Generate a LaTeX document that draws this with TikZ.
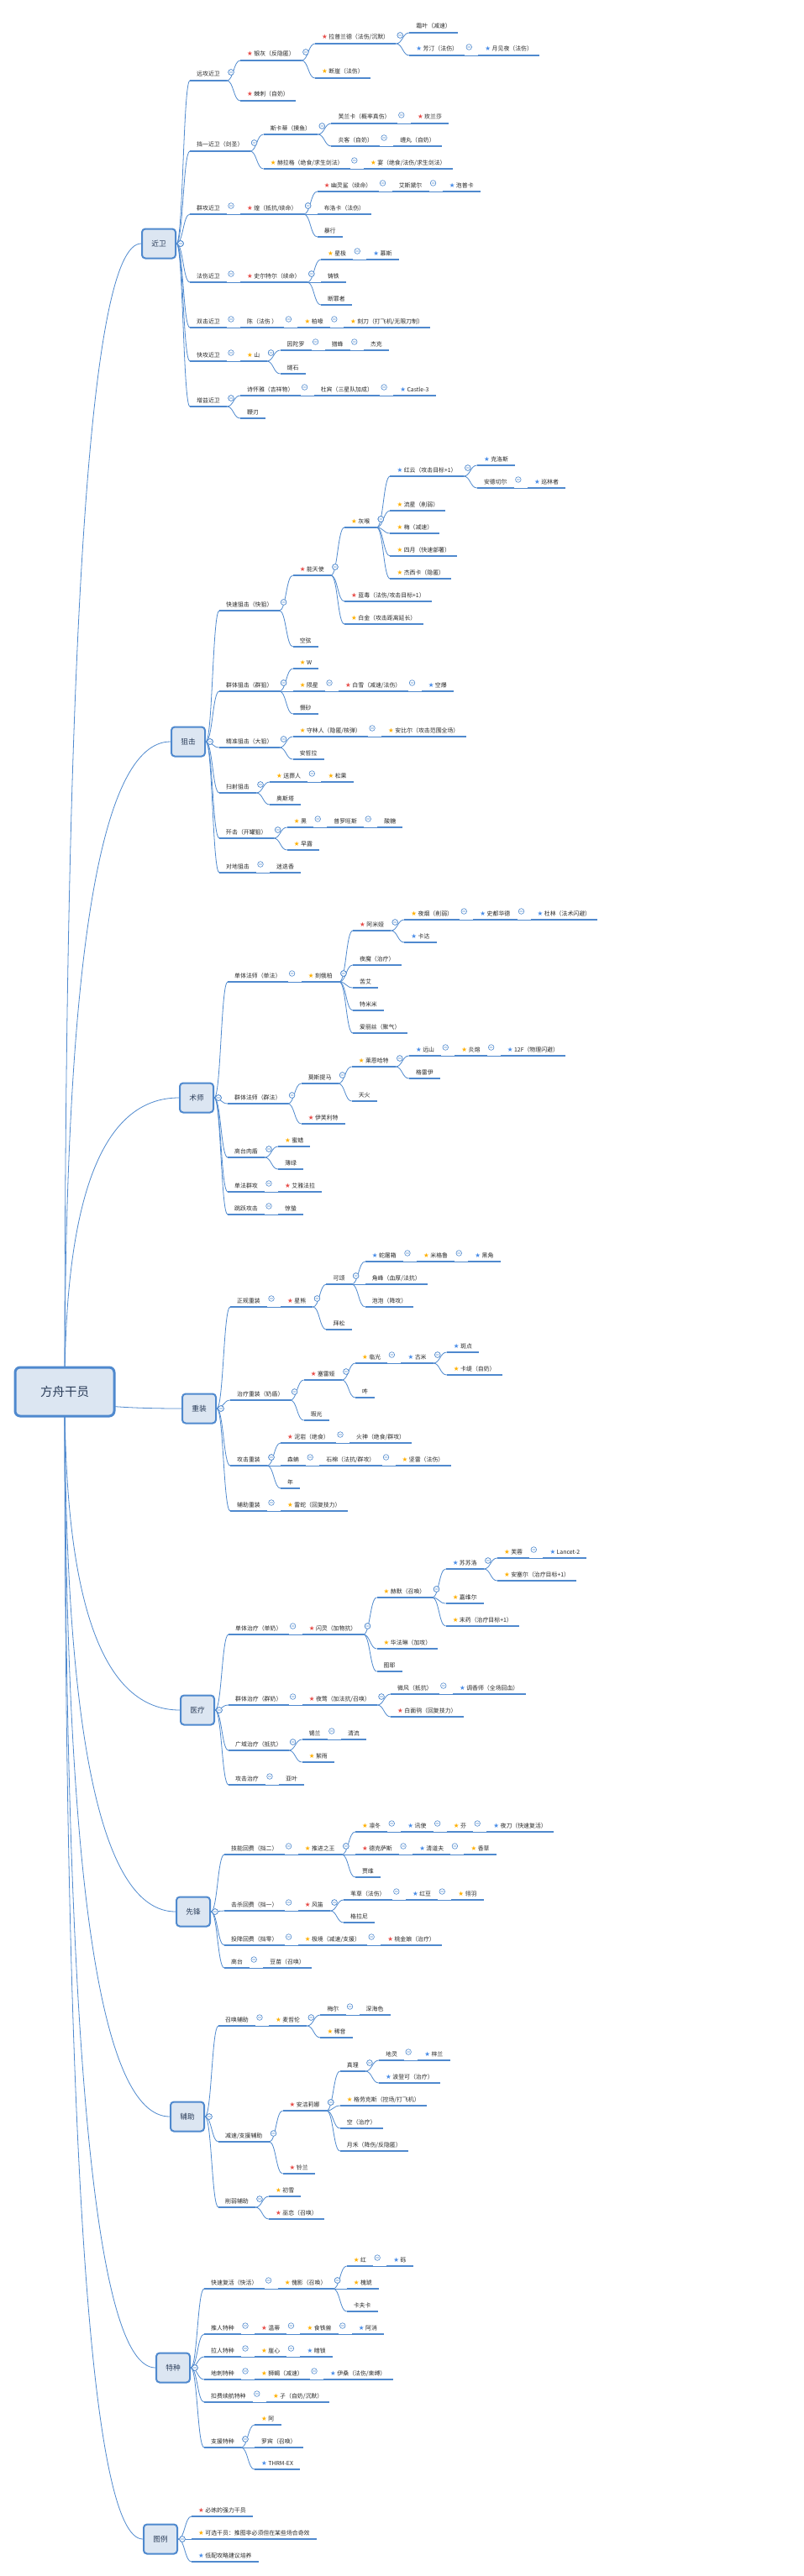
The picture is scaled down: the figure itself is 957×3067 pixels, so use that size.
\documentclass[tikz,border=0pt]{standalone}
\usepackage{fontspec}
\usepackage{tikz}
\usetikzlibrary{backgrounds, calc}
\newfontfamily\cjkFont{Noto Sans CJK SC}
\newfontfamily\symbolFont{DejaVu Sans}
\definecolor{lineColor}{RGB}{79,137,206}
\definecolor{boxColor}{RGB}{220,230,242}
\definecolor{boxTextColor}{RGB}{44,62,90}
\definecolor{textColor}{RGB}{40,40,40}
\definecolor{starRed}{RGB}{232,76,72}
\definecolor{starGold}{RGB}{255,176,0}
\definecolor{starBlue}{RGB}{72,140,232}
\tikzstyle{sheet} = [x = 1pt, y = -1pt]
\tikzstyle{rootStyle} = [draw=lineColor, fill=boxColor, line width=3pt, rounded corners=6pt, minimum width=118pt, minimum height=58pt, font=\cjkFont\fontsize{14.5}{16}\selectfont, text=boxTextColor]
\tikzstyle{mainStyle} = [anchor=west, draw=lineColor, fill=boxColor, line width=2pt, rounded corners=4pt, minimum width=40pt, minimum height=35pt, font=\cjkFont\fontsize{8.7}{10}\selectfont, text=boxTextColor]
\tikzstyle{topicStyle} = [anchor=south west, inner xsep=8pt, inner ysep=3.3pt, text height=6pt, text depth=1.5pt, font=\cjkFont\fontsize{6.9}{8}\selectfont, text=textColor]
\tikzstyle{underLine} = [color=lineColor, line width=2.7pt]
\tikzstyle{linkLine} = [color=lineColor, line width=0.8pt]
\tikzstyle{foldStyle} = [draw=lineColor, fill=white, line width=0.6pt]
\newcommand{\redStar}{{\symbolFont\fontsize{7.5}{8}\selectfont\color{starRed}★}\hspace{1.5pt}}
\newcommand{\goldStar}{{\symbolFont\fontsize{7.5}{8}\selectfont\color{starGold}★}\hspace{1.5pt}}
\newcommand{\blueStar}{{\symbolFont\fontsize{7.5}{8}\selectfont\color{starBlue}★}\hspace{1.5pt}}
\newcommand{\foldMark}[1]{\filldraw [foldStyle] (#1) circle [radius=3.3pt] +(-1.8pt,0) -- +(1.8pt,0);}
\newcommand{\mainTopic}[4]{
  \node [mainStyle] (#1) at (#2,#3) {#4};
  \begin{scope}[on background layer]
    \draw [linkLine] (root.center) .. controls ($(root.center)!0.667!(root.center |- #1.west)$) and ($(#1.west)!0.667!(root.center |- #1.west)$) .. (#1.west);
  \end{scope}
}
\newcommand{\subTopic}[4]{
  \path (#2.east) ++(16,0) coordinate (tmp);
  \node [topicStyle] (#1) at (tmp |- 0,#3) {#4};
  \draw [underLine] (#1.south west) -- (#1.south east);
  \draw [linkLine] (#2.east) .. controls +(8,0) and +(-8,0) .. (#1.south west);
  \foldMark{[xshift=5pt]#2.east}
}
\newcommand{\topicNode}[4]{
  \path (#2.south east) ++(16,0) coordinate (tmp);
  \node [topicStyle] (#1) at (tmp |- 0,#3) {#4};
  \draw [underLine] (#1.south west) -- (#1.south east);
  \draw [linkLine] (#2.south east) .. controls +(8,0) and +(-8,0) .. (#1.south west);
  \foldMark{[xshift=5pt,yshift=10pt]#2.south east}
}

\begin{document}
\begin{tikzpicture}[sheet]
  \begin{scope}[on background layer]
    \fill [white] (0,0) rectangle (957,3067);
  \end{scope}
  \useasboundingbox (0,0) rectangle (957,3067);
  \node [rootStyle] (root) at (77,1657) {方舟干员};

  \mainTopic{g}{168}{290}{近卫}
  \subTopic{g1}{g}{96}{远攻近卫}
  \topicNode{g1a}{g1}{72}{\redStar 银灰（反隐匿）}
  \topicNode{g1a1}{g1a}{52}{\redStar 拉普兰德（法伤/沉默）}
  \topicNode{g1a1a}{g1a1}{39}{霜叶（减速）}
  \topicNode{g1a1b}{g1a1}{66}{\blueStar 芳汀（法伤）}
  \topicNode{g1a1c}{g1a1b}{66}{\blueStar 月见夜（法伤）}
  \topicNode{g1a2}{g1a}{93}{\goldStar 断崖（法伤）}
  \topicNode{g1b}{g1}{120}{\redStar 棘刺（自奶）}
  \subTopic{g2}{g}{180}{挡一近卫（剑圣）}
  \topicNode{g2a}{g2}{160}{斯卡蒂（摸鱼）}
  \topicNode{g2a1}{g2a}{147}{芙兰卡（概率真伤）}
  \topicNode{g2a2}{g2a1}{147}{\redStar 玫兰莎}
  \topicNode{g2a3}{g2a}{174}{炎客（自奶）}
  \topicNode{g2a4}{g2a3}{174}{缠丸（自奶）}
  \topicNode{g2b}{g2}{201}{\goldStar 赫拉格（绝食/求生剑法）}
  \topicNode{g2c}{g2b}{201}{\goldStar 宴（绝食/法伤/求生剑法）}
  \subTopic{g3}{g}{255}{群攻近卫}
  \topicNode{g3a}{g3}{255}{\redStar 煌（抵抗/续命）}
  \topicNode{g3a1}{g3a}{228}{\redStar 幽灵鲨（续命）}
  \topicNode{g3a2}{g3a1}{228}{艾斯黛尔}
  \topicNode{g3a3}{g3a2}{228}{\blueStar 泡普卡}
  \topicNode{g3a4}{g3a}{255}{布洛卡（法伤）}
  \topicNode{g3a5}{g3a}{282}{暴行}
  \subTopic{g4}{g}{336}{法伤近卫}
  \topicNode{g4a}{g4}{336}{\redStar 史尔特尔（续命）}
  \topicNode{g4a1}{g4a}{309}{\goldStar 星极}
  \topicNode{g4a2}{g4a1}{309}{\blueStar 慕斯}
  \topicNode{g4a3}{g4a}{336}{铸铁}
  \topicNode{g4a4}{g4a}{363}{断罪者}
  \subTopic{g5}{g}{390}{双击近卫}
  \topicNode{g5a}{g5}{390}{陈（法伤 ）}
  \topicNode{g5b}{g5a}{390}{\goldStar 柏喙}
  \topicNode{g5c}{g5b}{390}{\goldStar 刻刀（打飞机/无限刀制）}
  \subTopic{g6}{g}{430}{快攻近卫}
  \topicNode{g6a}{g6}{430}{\goldStar 山}
  \topicNode{g6a1}{g6a}{417}{因陀罗}
  \topicNode{g6a2}{g6a1}{417}{猎蜂}
  \topicNode{g6a3}{g6a2}{417}{杰克}
  \topicNode{g6a4}{g6a}{445}{燧石}
  \subTopic{g7}{g}{484}{增益近卫}
  \topicNode{g7a}{g7}{471}{诗怀雅（吉祥物）}
  \topicNode{g7a1}{g7a}{471}{杜宾（三星队加成）}
  \topicNode{g7a2}{g7a1}{471}{\blueStar Castle-3}
  \topicNode{g7b}{g7}{498}{鞭刃}

  \mainTopic{s}{203}{883}{狙击}
  \subTopic{s1}{s}{727}{快速狙击（快狙）}
  \topicNode{s1a}{s1}{685}{\redStar 能天使}
  \topicNode{s1a1}{s1a}{628}{\goldStar 灰喉}
  \topicNode{s1a1a}{s1a1}{567}{\blueStar 红云（攻击目标+1）}
  \topicNode{s1a1a1}{s1a1a}{554}{\blueStar 克洛斯}
  \topicNode{s1a1a2}{s1a1a}{581}{安德切尔}
  \topicNode{s1a1a3}{s1a1a2}{581}{\blueStar 巡林者}
  \topicNode{s1a1b}{s1a1}{608}{\goldStar 流星（削弱）}
  \topicNode{s1a1c}{s1a1}{635}{\goldStar 梅（减速）}
  \topicNode{s1a1d}{s1a1}{662}{\goldStar 四月（快速部署）}
  \topicNode{s1a1e}{s1a1}{689}{\goldStar 杰西卡（隐匿）}
  \topicNode{s1a2}{s1a}{716}{\redStar 蓝毒（法伤/攻击目标+1）}
  \topicNode{s1a3}{s1a}{743}{\goldStar 白金（攻击距离延长）}
  \topicNode{s1b}{s1}{770}{空弦}
  \subTopic{s2}{s}{823}{群体狙击（群狙）}
  \topicNode{s2a}{s2}{796}{\goldStar W}
  \topicNode{s2b}{s2}{823}{\goldStar 陨星}
  \topicNode{s2b1}{s2b}{823}{\redStar 白雪（减速/法伤）}
  \topicNode{s2b2}{s2b1}{823}{\blueStar 空爆}
  \topicNode{s2c}{s2}{850}{慑砂}
  \subTopic{s3}{s}{890}{精准狙击（大狙）}
  \topicNode{s3a}{s3}{877}{\goldStar 守林人（隐匿/核弹）}
  \topicNode{s3a1}{s3a}{877}{\goldStar 安比尔（攻击范围全场）}
  \topicNode{s3b}{s3}{904}{安哲拉}
  \subTopic{s4}{s}{944}{扫射狙击}
  \topicNode{s4a}{s4}{931}{\goldStar 送葬人}
  \topicNode{s4a1}{s4a}{931}{\goldStar 松果}
  \topicNode{s4b}{s4}{958}{奥斯塔}
  \subTopic{s5}{s}{998}{歼击（开罐狙）}
  \topicNode{s5a}{s5}{985}{\goldStar 黑}
  \topicNode{s5a1}{s5a}{985}{普罗旺斯}
  \topicNode{s5a2}{s5a1}{985}{酸糖}
  \topicNode{s5b}{s5}{1012}{\goldStar 早露}
  \subTopic{s6}{s}{1039}{对地狙击}
  \topicNode{s6a}{s6}{1039}{迷迭香}

  \mainTopic{c}{213}{1307}{术师}
  \subTopic{c1}{c}{1169}{单体法师（单法）}
  \topicNode{c1a}{c1}{1169}{\goldStar 刻俄柏}
  \topicNode{c1a1}{c1a}{1108}{\redStar 阿米娅}
  \topicNode{c1a1a}{c1a1}{1095}{\goldStar 夜烟（削弱）}
  \topicNode{c1a1b}{c1a1a}{1095}{\blueStar 史都华德}
  \topicNode{c1a1c}{c1a1b}{1095}{\blueStar 杜林（法术闪避）}
  \topicNode{c1a1d}{c1a1}{1122}{\blueStar 卡达}
  \topicNode{c1a2}{c1a}{1149}{夜魔（治疗）}
  \topicNode{c1a3}{c1a}{1176}{苦艾}
  \topicNode{c1a4}{c1a}{1203}{特米米}
  \topicNode{c1a5}{c1a}{1230}{爱丽丝（聚气）}
  \subTopic{c2}{c}{1314}{群体法师（群法）}
  \topicNode{c2a}{c2}{1290}{莫斯提马}
  \topicNode{c2a1}{c2a}{1270}{\goldStar 莱恩哈特}
  \topicNode{c2a1a}{c2a1}{1257}{\blueStar 远山}
  \topicNode{c2a1b}{c2a1a}{1257}{\goldStar 炎熔}
  \topicNode{c2a1c}{c2a1b}{1257}{\blueStar 12F（物理闪避）}
  \topicNode{c2a1d}{c2a1}{1284}{格雷伊}
  \topicNode{c2a2}{c2a}{1311}{天火}
  \topicNode{c2b}{c2}{1338}{\redStar 伊芙利特}
  \subTopic{c3}{c}{1378}{高台肉盾}
  \topicNode{c3a}{c3}{1365}{\goldStar 蜜蜡}
  \topicNode{c3b}{c3}{1392}{薄绿}
  \subTopic{c4}{c}{1419}{单法群攻}
  \topicNode{c4a}{c4}{1419}{\redStar 艾雅法拉}
  \subTopic{c5}{c}{1446}{跳跃攻击}
  \topicNode{c5a}{c5}{1446}{惊蛰}

  \mainTopic{d}{216}{1677}{重装}
  \subTopic{d1}{d}{1556}{正规重装}
  \topicNode{d1a}{d1}{1556}{\redStar 星熊}
  \topicNode{d1a1}{d1a}{1529}{可颂}
  \topicNode{d1a1a}{d1a1}{1502}{\blueStar 蛇屠箱}
  \topicNode{d1a1b}{d1a1a}{1502}{\goldStar 米格鲁}
  \topicNode{d1a1c}{d1a1b}{1502}{\blueStar 黑角}
  \topicNode{d1a1d}{d1a1}{1529}{角峰（血厚/法抗）}
  \topicNode{d1a1e}{d1a1}{1556}{泡泡（降攻）}
  \topicNode{d1a2}{d1a}{1583}{拜松}
  \subTopic{d2}{d}{1667}{治疗重装（奶盾）}
  \topicNode{d2a}{d2}{1643}{\redStar 塞雷娅}
  \topicNode{d2a1}{d2a}{1623}{\goldStar 临光}
  \topicNode{d2a1a}{d2a1}{1623}{\blueStar 古米}
  \topicNode{d2a1b}{d2a1a}{1610}{\blueStar 斑点}
  \topicNode{d2a1c}{d2a1a}{1637}{\goldStar 卡缇（自奶）}
  \topicNode{d2a2}{d2a}{1664}{吽}
  \topicNode{d2b}{d2}{1691}{瑕光}
  \subTopic{d3}{d}{1745}{攻击重装}
  \topicNode{d3a}{d3}{1718}{\redStar 泥岩（绝食）}
  \topicNode{d3a1}{d3a}{1718}{火神（绝食/群攻）}
  \topicNode{d3b}{d3}{1745}{森蚺}
  \topicNode{d3b1}{d3b}{1745}{石棉（法抗/群攻）}
  \topicNode{d3b2}{d3b1}{1745}{\goldStar 坚雷（法伤）}
  \topicNode{d3c}{d3}{1772}{年}
  \subTopic{d4}{d}{1799}{辅助重装}
  \topicNode{d4a}{d4}{1799}{\goldStar 雷蛇（回复技力）}

  \mainTopic{m}{214}{2036}{医疗}
  \subTopic{m1}{m}{1946}{单体治疗（单奶）}
  \topicNode{m1a}{m1}{1946}{\redStar 闪灵（加物抗）}
  \topicNode{m1a1}{m1a}{1902}{\goldStar 赫默（召唤）}
  \topicNode{m1a1a}{m1a1}{1868}{\blueStar 苏苏洛}
  \topicNode{m1a1a1}{m1a1a}{1855}{\goldStar 芙蓉}
  \topicNode{m1a1a2}{m1a1a1}{1855}{\blueStar Lancet-2}
  \topicNode{m1a1a3}{m1a1a}{1882}{\goldStar 安塞尔（治疗目标+1）}
  \topicNode{m1a1b}{m1a1}{1909}{\goldStar 嘉维尔}
  \topicNode{m1a1c}{m1a1}{1936}{\goldStar 末药（治疗目标+1）}
  \topicNode{m1a2}{m1a}{1963}{\goldStar 华法琳（加攻）}
  \topicNode{m1a3}{m1a}{1990}{图耶}
  \subTopic{m2}{m}{2030}{群体治疗（群奶）}
  \topicNode{m2a}{m2}{2030}{\redStar 夜莺（加法抗/召唤）}
  \topicNode{m2a1}{m2a}{2017}{微风（抵抗）}
  \topicNode{m2a2}{m2a1}{2017}{\blueStar 调香师（全场回血）}
  \topicNode{m2a3}{m2a}{2044}{\redStar 白面鸮（回复技力）}
  \subTopic{m3}{m}{2084}{广域治疗（抵抗）}
  \topicNode{m3a}{m3}{2071}{锡兰}
  \topicNode{m3a1}{m3a}{2071}{清流}
  \topicNode{m3b}{m3}{2098}{\goldStar 絮雨}
  \subTopic{m4}{m}{2125}{攻击治疗}
  \topicNode{m4a}{m4}{2125}{亚叶}

  \mainTopic{v}{209}{2276}{先锋}
  \subTopic{v1}{v}{2208}{技能回费（挡二）}
  \topicNode{v1a}{v1}{2208}{\goldStar 推进之王}
  \topicNode{v1a1}{v1a}{2181}{\goldStar 凛冬}
  \topicNode{v1a1a}{v1a1}{2181}{\blueStar 讯使}
  \topicNode{v1a1b}{v1a1a}{2181}{\goldStar 芬}
  \topicNode{v1a1c}{v1a1b}{2181}{\blueStar 夜刀（快速复活）}
  \topicNode{v1a2}{v1a}{2208}{\redStar 德克萨斯}
  \topicNode{v1a2a}{v1a2}{2208}{\blueStar 清道夫}
  \topicNode{v1a2b}{v1a2a}{2208}{\goldStar 香草}
  \topicNode{v1a3}{v1a}{2235}{贾维}
  \subTopic{v2}{v}{2275}{击杀回费（挡一）}
  \topicNode{v2a}{v2}{2275}{\redStar 风笛}
  \topicNode{v2a1}{v2a}{2262}{苇草（法伤）}
  \topicNode{v2a1a}{v2a1}{2262}{\blueStar 红豆}
  \topicNode{v2a1b}{v2a1a}{2262}{\goldStar 翎羽}
  \topicNode{v2a2}{v2a}{2289}{格拉尼}
  \subTopic{v3}{v}{2316}{投降回费（挡零）}
  \topicNode{v3a}{v3}{2316}{\goldStar 极境（减速/支援）}
  \topicNode{v3a1}{v3a}{2316}{\redStar 桃金娘（治疗）}
  \subTopic{v4}{v}{2343}{高台}
  \topicNode{v4a}{v4}{2343}{豆苗（召唤）}

  \mainTopic{u}{202}{2520}{辅助}
  \subTopic{u1}{u}{2412}{召唤辅助}
  \topicNode{u1a}{u1}{2412}{\goldStar 麦哲伦}
  \topicNode{u1a1}{u1a}{2399}{梅尔}
  \topicNode{u1a2}{u1a1}{2399}{深海色}
  \topicNode{u1a3}{u1a}{2426}{\goldStar 稀音}
  \subTopic{u2}{u}{2550}{减速/支援辅助}
  \topicNode{u2a}{u2}{2513}{\redStar 安洁莉娜}
  \topicNode{u2a1}{u2a}{2466}{真理}
  \topicNode{u2a1a}{u2a1}{2453}{地灵}
  \topicNode{u2a1b}{u2a1a}{2453}{\blueStar 梓兰}
  \topicNode{u2a1c}{u2a1}{2480}{\blueStar 波登可（治疗）}
  \topicNode{u2a2}{u2a}{2507}{\goldStar 格劳克斯（控场/打飞机）}
  \topicNode{u2a3}{u2a}{2534}{空（治疗）}
  \topicNode{u2a4}{u2a}{2561}{月禾（降伤/反隐匿）}
  \topicNode{u2b}{u2}{2588}{\redStar 铃兰}
  \subTopic{u3}{u}{2628}{削弱辅助}
  \topicNode{u3a}{u3}{2615}{\goldStar 初雪}
  \topicNode{u3b}{u3}{2642}{\redStar 巫恋（召唤）}

  \mainTopic{p}{185}{2819}{特种}
  \subTopic{p1}{p}{2725}{快速复活（快活）}
  \topicNode{p1a}{p1}{2725}{\goldStar 傀影（召唤）}
  \topicNode{p1a1}{p1a}{2698}{\goldStar 红}
  \topicNode{p1a1a}{p1a1}{2698}{\blueStar 砾}
  \topicNode{p1a2}{p1a}{2725}{\goldStar 槐琥}
  \topicNode{p1a3}{p1a}{2752}{卡夫卡}
  \subTopic{p2}{p}{2779}{推人特种}
  \topicNode{p2a}{p2}{2779}{\redStar 温蒂}
  \topicNode{p2b}{p2a}{2779}{\goldStar 食铁兽}
  \topicNode{p2c}{p2b}{2779}{\blueStar 阿消}
  \subTopic{p3}{p}{2806}{拉人特种}
  \topicNode{p3a}{p3}{2806}{\goldStar 崖心}
  \topicNode{p3b}{p3a}{2806}{\blueStar 暗锁}
  \subTopic{p4}{p}{2833}{地刺特种}
  \topicNode{p4a}{p4}{2833}{\goldStar 狮蝎（减速）}
  \topicNode{p4b}{p4a}{2833}{\blueStar 伊桑（法伤/束缚）}
  \subTopic{p5}{p}{2860}{扣费续航特种}
  \topicNode{p5a}{p5}{2860}{\goldStar 孑（自奶/沉默）}
  \subTopic{p6}{p}{2914}{支援特种}
  \topicNode{p6a}{p6}{2887}{\goldStar 阿}
  \topicNode{p6b}{p6}{2914}{罗宾（召唤）}
  \topicNode{p6c}{p6}{2940}{\blueStar THRM-EX}

  \mainTopic{l}{170}{3023}{图例}
  \subTopic{l1}{l}{2996}{\redStar 必练的强力干员}
  \subTopic{l2}{l}{3023}{\goldStar 可选干员：推图非必须但在某些场合奇效}
  \subTopic{l3}{l}{3050}{\blueStar 低配攻略建议培养}
\end{tikzpicture}
\end{document}
